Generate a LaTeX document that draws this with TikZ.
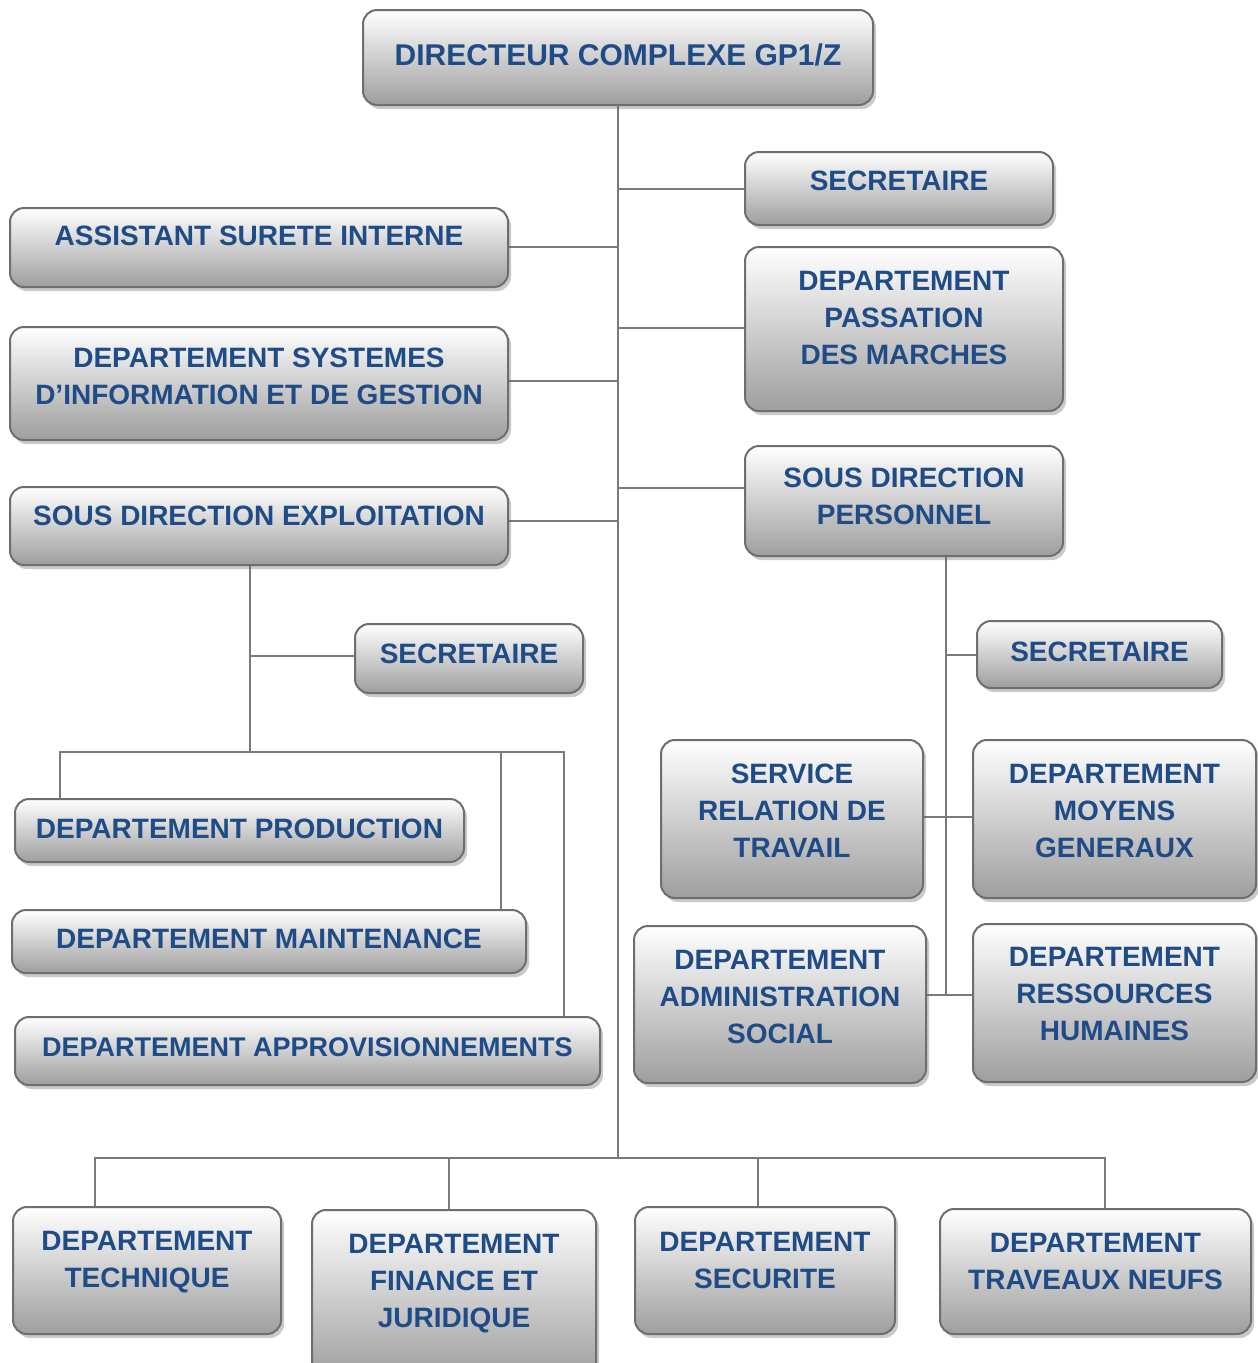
\documentclass[tikz,border=0pt]{standalone}
\usepackage{fontspec}
\setmainfont{Liberation Sans}
\usetikzlibrary{shadows,calc,backgrounds}
\definecolor{txtblue}{HTML}{1F4C87}
\definecolor{bordergray}{HTML}{6E6E6E}
\definecolor{linegray}{HTML}{7A7A7A}
\tikzset{
  obox/.style={draw=bordergray, line width=2pt, rounded corners=14pt,
    top color=white, bottom color=black!38, inner sep=0pt, outer sep=0pt,
    drop shadow={shadow xshift=3pt, shadow yshift=-4pt, opacity=0.35, fill=black!60}},
  otext/.style={inner sep=0pt, align=center, text=txtblue,
    font=\bfseries\fontsize{28}{37}\selectfont},
  conn/.style={draw=linegray, line width=2pt}
}
\newcommand\orgbox[7]{%
  \node[obox, minimum width={#4-#2}, minimum height={#5-#3}] (#1) at ({(#2+#4)/2},{(#3+#5)/2}) {};
  \node[otext] (#1t) at ({(#2+#4)/2},#6) {#7};
}
\begin{document}
\begin{tikzpicture}[x=1pt,y=-1pt]
\useasboundingbox (0,0) rectangle (1258,1363);

\orgbox{dir}{363}{10}{873}{105}{55}{\fontsize{30}{37}\selectfont DIRECTEUR COMPLEXE GP1/Z}
\orgbox{secA}{745}{152}{1053}{225}{181}{SECRETAIRE}
\orgbox{asst}{10}{208}{508}{287}{236}{ASSISTANT SURETE INTERNE}
\orgbox{pass}{745}{247}{1063}{411}{318}{DEPARTEMENT\\PASSATION\\DES MARCHES}
\orgbox{sys}{10}{327}{508}{440}{376}{DEPARTEMENT SYSTEMES\\D’INFORMATION ET DE GESTION}
\orgbox{pers}{745}{446}{1063}{556}{496}{SOUS DIRECTION\\PERSONNEL}
\orgbox{expl}{10}{487}{508}{565}{516}{SOUS DIRECTION EXPLOITATION}
\orgbox{secB}{355}{624}{583}{693}{654}{SECRETAIRE}
\orgbox{secC}{977}{621}{1222}{688}{652}{SECRETAIRE}
\orgbox{srt}{661}{740}{923}{898}{811}{SERVICE\\RELATION DE\\TRAVAIL}
\orgbox{moy}{973}{740}{1256}{898}{811}{DEPARTEMENT\\MOYENS\\GENERAUX}
\orgbox{prod}{15}{799}{464}{862}{829}{DEPARTEMENT PRODUCTION}
\orgbox{maint}{12}{910}{526}{973}{939}{DEPARTEMENT MAINTENANCE}
\orgbox{adm}{634}{926}{926}{1083}{997}{DEPARTEMENT\\ADMINISTRATION\\SOCIAL}
\orgbox{rh}{973}{924}{1256}{1082}{994}{DEPARTEMENT\\RESSOURCES\\HUMAINES}
\orgbox{appro}{15}{1017}{600}{1085}{1047}{\fontsize{27}{37}\selectfont DEPARTEMENT APPROVISIONNEMENTS}
\orgbox{tech}{13}{1207}{281}{1334}{1262}{DEPARTEMENT\\TECHNIQUE}
\orgbox{fin}{312}{1210}{596}{1380}{1284}{DEPARTEMENT\\FINANCE ET\\JURIDIQUE}
\orgbox{secu}{635}{1207}{895}{1334}{1260}{DEPARTEMENT\\SECURITE}
\orgbox{trav}{940}{1209}{1251}{1334}{1261}{DEPARTEMENT\\TRAVEAUX NEUFS}

% junction points
\coordinate (bb) at (618,1158);
\coordinate (ej) at (250,752);
\coordinate (bl) at (60,752);
\coordinate (bm) at (501,752);
\coordinate (br) at (564,752);
\coordinate (pj) at (946,995);
\coordinate (b1) at (95,1158);
\coordinate (b2) at (449,1158);
\coordinate (b3) at (758,1158);
\coordinate (b4) at (1105,1158);

\begin{pgfonlayer}{background}
\begin{scope}[conn]
\draw[conn] (dir.south) -- (dir.south |- bb);
\draw[conn] (secA.west) -- (secA.west -| dir.south);
\draw[conn] ($(asst.east)+(0,-1)$) -- ($(asst.east -| dir.south)+(0,-1)$);
\draw[conn] ($(pass.west)+(0,-1)$) -- ($(pass.west -| dir.south)+(0,-1)$);
\draw[conn] ($(sys.east)+(0,-3)$) -- ($(sys.east -| dir.south)+(0,-3)$);
\draw[conn] ($(pers.west)+(0,-13)$) -- ($(pers.west -| dir.south)+(0,-13)$);
\draw[conn] ($(expl.east)+(0,-5)$) -- ($(expl.east -| dir.south)+(0,-5)$);
\draw[conn] (expl.south -| ej) -- (ej);
\draw[conn] ($(secB.west)+(0,-3)$) -- ($(secB.west -| ej)+(0,-3)$);
\draw[conn] (prod.north -| bl) -- (bl) -- (br) -- (appro.north -| br);
\draw[conn] (bm) -- (maint.north -| bm);
\draw[conn] (pers.south -| pj) -- (pj);
\draw[conn] (secC.west) -- (secC.west -| pj);
\draw[conn] ($(srt.east)+(0,-2)$) -- ($(moy.west)+(0,-2)$);
\draw[conn] (adm.east |- pj) -- (rh.west |- pj);
\draw[conn] (tech.north -| b1) -- (b1) -- (b4) -- (trav.north -| b4);
\draw[conn] (b2) -- (fin.north -| b2);
\draw[conn] (b3) -- (secu.north -| b3);
\end{scope}
\end{pgfonlayer}
\end{tikzpicture}
\end{document}
